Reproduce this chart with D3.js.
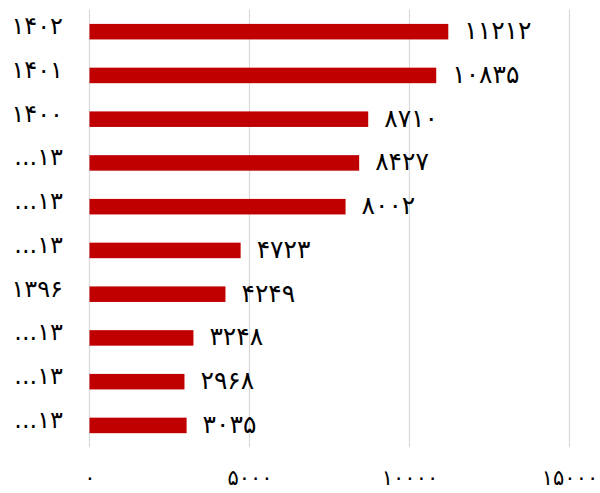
<!DOCTYPE html>
<html>
<head>
<meta charset="utf-8">
<script src="https://cdn.jsdelivr.net/npm/d3@7"></script>
<style>
  body { margin: 0; background: #fff; }
  text { font-family: "DejaVu Sans", sans-serif; fill: #000; }
</style>
</head>
<body>
<script>
'use strict'

let width = 600
let height = 493

// years, newest first (long ones are cut off in the original)
let categories = ['۱۴۰۲', '۱۴۰۱', '۱۴۰۰', '...۱۳', '....۱۳', '.....۱۳', '۱۳۹۶', '......۱۳', '.......۱۳', '........۱۳']
let labels = ['۱۴۰۲', '۱۴۰۱', '۱۴۰۰', '...۱۳', '...۱۳', '...۱۳', '۱۳۹۶', '...۱۳', '...۱۳', '...۱۳']
let values = [11212, 10835, 8710, 8427, 8002, 4723, 4249, 3248, 2968, 3035]
let ticks = [0, 5000, 10000, 15000]

const faDigits = '۰۱۲۳۴۵۶۷۸۹'
function toFa(n) {
  return String(n).replace(/[0-9]/g, d => faDigits[+d])
}

let svg = d3.select('body').append('svg')
  .attr('width', width)
  .attr('height', height)

let x = d3.scaleLinear()
  .domain([0, 15000])
  .range([89.5, 569.5])

let y = d3.scaleBand()
  .domain(categories)
  .range([9.8, 447.3])
  .paddingInner(0.645)
  .paddingOuter(0.3225)

// gridlines
svg.append('g')
  .selectAll('line')
  .data(ticks)
  .enter()
  .append('line')
  .attr('x1', d => x(d))
  .attr('x2', d => x(d))
  .attr('y1', 9.8)
  .attr('y2', 447.3)
  .attr('stroke', '#d9d9d9')
  .attr('stroke-width', 1.2)

// x axis labels
let xAxis = d3.axisBottom(x)
  .tickValues(ticks)
  .tickSize(0)
  .tickPadding(0)
  .tickFormat(toFa)

let gx = svg.append('g')
  .attr('transform', 'translate(0,' + 470 + ')')
  .call(xAxis)
gx.select('.domain').remove()
gx.selectAll('text')
  .style('font-size', '21px')
  .style('font-family', '"DejaVu Sans", sans-serif')

// y axis labels
let yAxis = d3.axisLeft(y)
  .tickSize(0)
  .tickPadding(0)
  .tickFormat((d, i) => labels[i])

let gy = svg.append('g')
  .attr('transform', 'translate(' + 63 + ',0)')
  .call(yAxis)
gy.select('.domain').remove()
gy.selectAll('text')
  .attr('dy', '0.1em')
  .style('font-size', '24px')
  .style('font-family', '"DejaVu Sans", sans-serif')

// bars
svg.append('g')
  .selectAll('rect')
  .data(values)
  .enter()
  .append('rect')
  .attr('x', x(0))
  .attr('y', (d, i) => y(categories[i]))
  .attr('width', d => x(d) - x(0))
  .attr('height', y.bandwidth())
  .attr('fill', '#c00000')

// value labels
svg.append('g')
  .selectAll('text')
  .data(values)
  .enter()
  .append('text')
  .attr('x', d => x(d) + 16)
  .attr('y', (d, i) => y(categories[i]) + y.bandwidth() / 2)
  .attr('dy', '0.3em')
  .style('font-size', '25px')
  .text(d => toFa(d))
</script>
</body>
</html>
